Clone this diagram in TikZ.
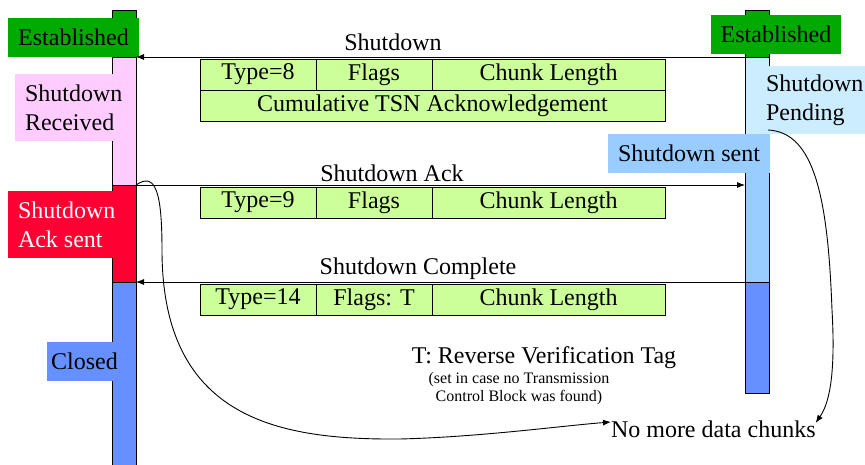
\documentclass[tikz,border=0pt]{standalone}
\usepackage{fontspec}
\setmainfont{Liberation Serif}
\usetikzlibrary{positioning,arrows.meta}

\definecolor{estgreen}{RGB}{0,170,0}
\definecolor{recvpink}{RGB}{255,204,255}
\definecolor{ackred}{RGB}{255,0,51}
\definecolor{closedblue}{RGB}{102,144,255}
\definecolor{pendblue}{RGB}{204,236,255}
\definecolor{sentblue}{RGB}{153,204,255}
\definecolor{chunkgreen}{RGB}{204,255,153}

\begin{document}
\begin{tikzpicture}[x=1pt, y=-1pt,
    every node/.style={font=\fontsize{24}{29}\selectfont, outer sep=0pt},
    seg/.style={draw, line width=0.8pt, minimum width=24pt, inner sep=0pt},
    state/.style={align=left, inner ysep=0pt},
    field/.style={draw, line width=0.9pt, fill=chunkgreen, minimum height=31pt, inner sep=0pt},
    msg/.style={line width=0.8pt, -{Latex[length=8pt,width=6pt]}},
    note/.style={line width=0.9pt, -{Latex[length=8pt,width=6pt]}}]
    \useasboundingbox (0,0) rectangle (865,465);

    % Left endpoint
    \node[seg, fill=estgreen, minimum height=47pt, anchor=north] (lest) at (124,10) {};
    \node[seg, fill=recvpink, minimum height=128pt, below=0pt of lest] (lrecv) {};
    \node[seg, fill=ackred, minimum height=97pt, below=0pt of lrecv] (lack) {};
    \node[seg, fill=closedblue, minimum height=195pt, below=0pt of lack] (lclosed) {};

    % Right endpoint
    \node[seg, fill=estgreen, minimum height=47pt, anchor=north] (rest) at (757,10) {};
    \node[seg, fill=pendblue, minimum height=77pt, below=0pt of rest] (rpend) {};
    \node[seg, fill=sentblue, minimum height=148pt, below=0pt of rpend] (rsent) {};
    \node[seg, fill=closedblue, minimum height=111pt, below=0pt of rsent] (rclosed) {};

    % States
    \node[state, fill=estgreen, minimum width=131pt, minimum height=39pt] (lestlbl) at (73.5,37.5) {Established};
    \node[state, fill=recvpink, inner xsep=10pt, minimum height=67pt, anchor=north west] (lrecvlbl) at (15,74) {Shutdown\\Received};
    \node[state, fill=ackred, text=white, inner xsep=10pt, minimum height=67pt, anchor=north west] (lacklbl) at (8,191) {Shutdown\\Ack sent};
    \node[state, fill=closedblue, inner xsep=4pt, minimum height=39pt] (lclosedlbl) at (84.5,361.5) {Closed};
    \node[state, fill=estgreen, minimum width=130pt, minimum height=39pt] (restlbl) at (776,34.5) {Established};
    \node[state, fill=pendblue, inner xsep=19pt, minimum height=68pt, anchor=north west] (rpendlbl) at (747,66) {Shutdown\\Pending};
    \node[state, fill=sentblue, inner xsep=10pt, minimum height=39pt] (rsentlbl) at (689,153.5) {Shutdown sent};

    % Shutdown
    \draw[msg] (rpend.north west) -- (lrecv.north east);
    \node[anchor=base, inner sep=0pt] (shutlbl) at (393,51) {Shutdown};
    \node[field, minimum width=116pt, anchor=north west] (t8) at (200,59) {Type=8};
    \node[field, minimum width=116pt, right=0pt of t8] (f8) {Flags};
    \node[field, minimum width=233pt, right=0pt of f8] (l8) {Chunk Length};
    \node[field, minimum width=465pt, anchor=north west] (cum8) at (t8.south west) {Cumulative TSN Acknowledgement};

    % Shutdown Ack
    \draw[msg] (lack.north east) -- (lack.north east -| rsent.west);
    \node[anchor=base, inner sep=0pt] (acklbl) at (392,182) {Shutdown Ack};
    \node[field, minimum width=116pt, anchor=north west] (t9) at (200,187) {Type=9};
    \node[field, minimum width=116pt, right=0pt of t9] (f9) {Flags};
    \node[field, minimum width=233pt, right=0pt of f9] (l9) {Chunk Length};

    % Shutdown Complete
    \draw[msg] (rclosed.north west) -- (lclosed.north east);
    \node[anchor=base, inner sep=0pt] (complbl) at (418,274) {Shutdown Complete};
    \node[field, minimum width=116pt, anchor=north west] (t14) at (200,284) {Type=14};
    \node[field, minimum width=116pt, right=0pt of t14] (f14) {Flags: T};
    \node[field, minimum width=233pt, right=0pt of f14] (l14) {Chunk Length};

    % Notes
    \node[anchor=base, inner sep=0pt] (taglbl) at (544,363) {T: Reverse Verification Tag};
    \node[align=center, inner sep=0pt, font=\fontsize{16}{18}\selectfont] (tagnote) at (519,389) {(set in case no Transmission\\Control Block was found)};
    \node[anchor=base west, inner sep=0pt] (nomore) at (611,437) {No more data chunks};
    \coordinate (pendtail) at (768,130);

    \draw[note] (lack.north east) .. controls (155,172) and (162,190) .. (162,250)
        .. controls (162,420) and (280,440) .. (400,439)
        .. controls (480,437) and (560,426) .. ([yshift=15pt]nomore.base west);
    \draw[note] (pendtail) .. controls (815,132) and (828,200) .. (832,310)
        .. controls (836,380) and (828,405) .. ([yshift=14pt]nomore.base east);
\end{tikzpicture}
\end{document}
